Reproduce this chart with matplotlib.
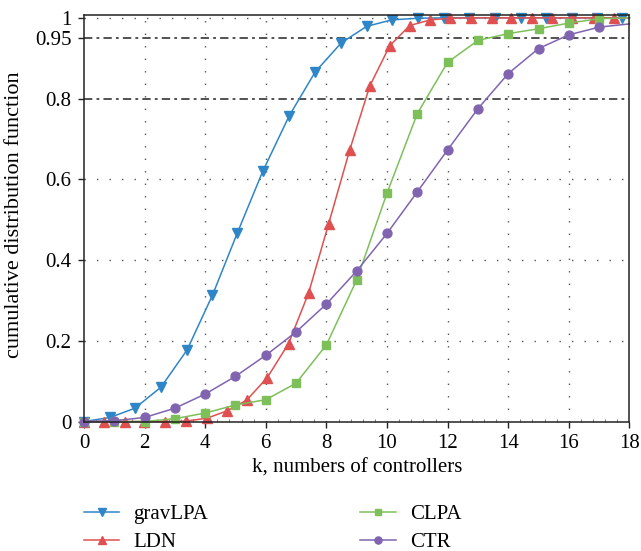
import matplotlib
matplotlib.use('Agg')
import matplotlib.pyplot as plt
from matplotlib.ticker import MultipleLocator, FixedLocator

# values (last point of each series is the line end at k=18)
grav_k = [0, 0.86, 1.68, 2.54, 3.4, 4.24, 5.06, 5.9, 6.77, 7.63, 8.49, 9.33,
          10.16, 11.02, 11.87, 12.72, 13.57, 14.41, 15.26, 16.1, 16.94, 17.77, 18]
grav_p = [0, 0.01, 0.033, 0.085, 0.177, 0.313, 0.467, 0.62, 0.757, 0.866, 0.938, 0.979,
          0.995, 0.999, 1.0, 1.0, 1.0, 1.0, 1.0, 1.0, 1.0, 1.0, 1.0]

ldn_k = [0, 0.67, 1.35, 1.99, 2.67, 3.36, 4.05, 4.71, 5.37, 6.05, 6.75, 7.41, 8.07,
         8.77, 9.43, 10.09, 10.75, 11.43, 12.09, 12.77, 13.45, 14.1, 14.79, 15.45,
         16.12, 16.82, 17.48, 18]
ldn_p = [0, 0, 0, 0, 0, 0.001, 0.008, 0.026, 0.053, 0.109, 0.193, 0.318, 0.489,
         0.673, 0.831, 0.931, 0.981, 0.995, 0.999, 1.0, 1.0, 1.0, 1.0, 1.0,
         1.0, 1.0, 1.0, 1.0]

clpa_k = [0, 1, 2, 3, 4, 5, 6, 7, 8, 9, 10, 11, 12, 13, 14, 15, 16, 17, 18]
clpa_p = [0, 0, 0, 0.007, 0.021, 0.041, 0.054, 0.095, 0.19, 0.351, 0.566, 0.763,
          0.89, 0.944, 0.961, 0.973, 0.987, 0.998, 1.0]

ctr_k = [0, 1, 2, 3, 4, 5, 6, 7, 8, 9, 10, 11, 12, 13, 14, 15, 16, 17, 18]
ctr_p = [0, 0.002, 0.01, 0.033, 0.068, 0.112, 0.164, 0.222, 0.291, 0.373, 0.466,
         0.569, 0.673, 0.775, 0.862, 0.924, 0.958, 0.977, 0.985]

series = [
    ('gravLPA', grav_k, grav_p, 'v', '#2E86C8', 7.6),
    ('LDN', ldn_k, ldn_p, '^', '#E05050', 7.6),
    ('CLPA', clpa_k, clpa_p, 's', '#7DC05A', 5.8),
    ('CTR', ctr_k, ctr_p, 'o', '#8064B0', 6.4),
]

plt.rcParams['font.family'] = ['Liberation Serif', 'DejaVu Serif']
plt.rcParams['lines.scale_dashes'] = False

fig = plt.figure(figsize=(6.41, 5.51), dpi=100)
ax = fig.add_axes([0.131, 0.235, 0.851, 0.737])

# grid and reference levels
for x in range(2, 18, 2):
    ax.axvline(x, color='#555555', lw=1.0, ls=(0, (1, 8)), zorder=0)
for y in [0.2, 0.4, 0.6, 1.0]:
    ax.axhline(y, color='#555555', lw=1.0, ls=(0, (1, 8)), zorder=0)
for y in [0.8, 0.95]:
    ax.axhline(y, color='#444444', lw=1.3, ls=(0, (6, 3, 2, 3)), zorder=0)

for name, k, p, m, c, ms in series:
    ax.plot(k, p, color=c, lw=1.1, marker=m, markersize=ms,
            markevery=list(range(len(k) - 1)), label=name, clip_on=False)

ax.set_xlim(0, 18)
ax.set_ylim(0, 1.006)
ax.xaxis.set_major_locator(MultipleLocator(2))
ax.xaxis.set_minor_locator(MultipleLocator(0.4))
ax.yaxis.set_major_locator(FixedLocator([0, 0.2, 0.4, 0.6, 0.8, 0.95, 1]))
ax.set_yticklabels(['0', '0.2', '0.4', '0.6', '0.8', '0.95', '1'])
ax.tick_params(axis='both', labelsize=15, length=4, width=1, direction='out',
               color='#222222', pad=5)
ax.tick_params(axis='x', which='minor', length=2.5, direction='in', color='#666666')
for s in ax.spines.values():
    s.set_linewidth(1.1)
    s.set_color('#222222')

ax.set_xlabel('k, numbers of controllers', fontsize=15, labelpad=4)
ax.set_ylabel('cumulative distribution function', fontsize=16)
ax.yaxis.set_label_coords(-0.11, 0.51)

ax.legend(loc='upper left', bbox_to_anchor=(0.118, 0.10), bbox_transform=fig.transFigure,
          ncol=2, frameon=False, fontsize=15, handlelength=1.7, handletextpad=0.67,
          columnspacing=7.3, labelspacing=0.43, borderaxespad=0, markerscale=0.8)

fig.savefig('out.png', dpi=100)
